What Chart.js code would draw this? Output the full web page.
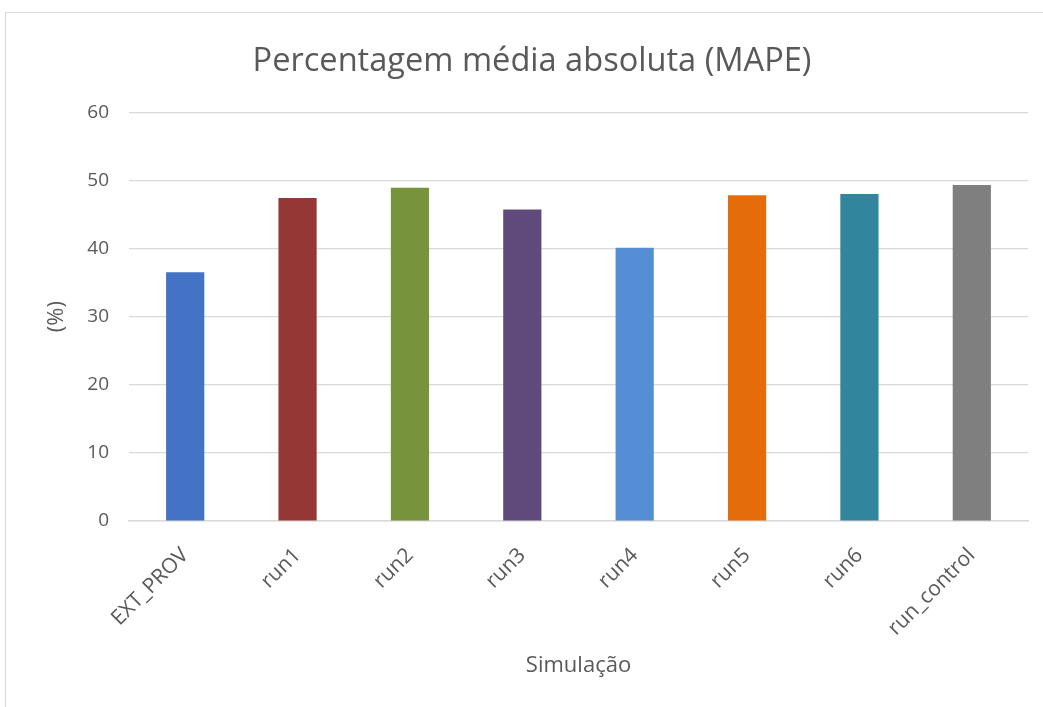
<!DOCTYPE html>
<html>
<head>
<meta charset="utf-8">
<script src="https://cdn.jsdelivr.net/npm/chart.js@4.4.0/dist/chart.umd.min.js"></script>
<style>
  html, body { margin: 0; padding: 0; background: #ffffff; }
  #wrap { position: absolute; left: 0; top: 0; width: 1043px; height: 707px; }
  #frame { position: absolute; left: 5px; top: 12px; width: 1050px; height: 710px; border: 1px solid #d9d9d9; box-sizing: border-box; }
  canvas { position: absolute; left: 0; top: 0; }
</style>
</head>
<body>
<div id="wrap">
  <div id="frame"></div>
  <canvas id="c" width="1043" height="707"></canvas>
</div>
<script>
const categories = ["EXT_PROV", "run1", "run2", "run3", "run4", "run5", "run6", "run_control"];
const mapeValues = [36.5, 47.4, 48.9, 45.7, 40.1, 47.8, 48.0, 49.3];
const barColors = ["#4472C4", "#953735", "#77933C", "#604A7B", "#558ED5", "#E46C0A", "#31859C", "#7F7F7F"];
const yTicks = [0, 10, 20, 30, 40, 50, 60];
const chartTitle = "Percentagem média absoluta (MAPE)";
const xTitle = "Simulação";
const yTitle = "(%)";

const FONT = "'Open Sans', 'Noto Sans', sans-serif";
const GREY = "#595959";

// Excel centres the title over the whole frame; nudge the title box accordingly.
const titleShift = {
  id: "titleShift",
  afterLayout(chart) {
    const t = chart.titleBlock;
    if (t) { t.left += 18; t.right += 18; }
  }
};

new Chart(document.getElementById("c"), {
  type: "bar",
  data: {
    labels: categories,
    datasets: [{
      data: mapeValues,
      backgroundColor: barColors,
      borderWidth: 0,
      barPercentage: 0.34,
      categoryPercentage: 1.0
    }]
  },
  plugins: [titleShift],
  options: {
    responsive: false,
    animation: false,
    layout: { padding: { left: 0, right: 15, top: 0, bottom: 0 } },
    plugins: {
      legend: { display: false },
      tooltip: { enabled: false },
      title: {
        display: true,
        text: chartTitle,
        color: GREY,
        font: { family: FONT, size: 32.6, weight: "normal" },
        padding: { top: 42, bottom: 31 }
      }
    },
    scales: {
      x: {
        grid: { display: false, drawTicks: false },
        border: { display: true, color: "#d9d9d9", width: 1.5 },
        ticks: {
          color: GREY,
          font: { family: FONT, size: 21 },
          minRotation: 45,
          maxRotation: 45,
          padding: 22
        },
        title: {
          display: true,
          text: xTitle,
          color: GREY,
          font: { family: FONT, size: 22 },
          padding: { top: 0, bottom: 28 }
        },
        afterFit(scale) {
          scale.height = 186;
          scale.paddingLeft = 0;
          scale.paddingRight = 0;
        }
      },
      y: {
        min: 0,
        max: 60,
        afterBuildTicks(scale) { scale.ticks = yTicks.map(v => ({ value: v })); },
        grid: { color: "#d9d9d9", lineWidth: 1.2, drawTicks: false },
        border: { display: false },
        ticks: {
          color: GREY,
          font: { family: FONT, size: 19 },
          padding: 20
        },
        title: {
          display: true,
          text: yTitle,
          color: GREY,
          font: { family: FONT, size: 22 },
          padding: { top: 44, bottom: 0 }
        },
        afterFit(scale) {
          scale.width = 129;
          scale.paddingTop = 0;
          scale.paddingBottom = 0;
        }
      }
    }
  }
});
</script>
</body>
</html>
